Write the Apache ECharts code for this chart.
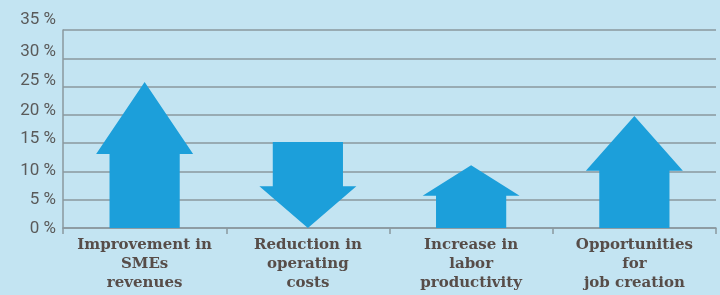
<!DOCTYPE html>
<html><head><meta charset="utf-8">
<script src="https://cdn.jsdelivr.net/npm/echarts@6/dist/echarts.min.js"></script>
<style>html,body{margin:0;padding:0;background:#c3e4f2;}#c{width:720px;height:295px;}</style>
</head><body><div id="c"></div>
<script>
const categories = ['Improvement in\nSMEs\nrevenues', 'Reduction in\noperating\ncosts', 'Increase in\nlabor\nproductivity', 'Opportunities\nfor\njob creation'];
const shaftStart = [0, 15.2, 0, 0];
const headStart = [13.1, 7.4, 5.7, 10.1];
const tipValue = [25.8, 0, 11.1, 19.8];
const yTicks = [0, 5, 10, 15, 20, 25, 30, 35];
const labelShift = {0: -1, 5: 0, 10: 1, 15: 4, 20: 4, 25: 6, 30: 7, 35: 10};

const rich = {};
yTicks.forEach(v => {
  const s = labelShift[v];
  rich['v' + v] = {
    fontSize: 17, fontFamily: 'Roboto', fontWeight: 'normal', color: '#5a5a5a',
    padding: s >= 0 ? [0, 0, 2 * s, 0] : [-2 * s, 0, 0, 0]
  };
});

const chart = echarts.init(document.getElementById('c'));
chart.setOption({
  backgroundColor: '#c3e4f2',
  animation: false,
  grid: {left: 63, right: 4, top: 30, bottom: 67},
  xAxis: {
    type: 'category', data: categories,
    axisLine: {lineStyle: {color: '#8a989e', width: 1.5}},
    axisTick: {show: true, length: 6, lineStyle: {color: '#8a989e', width: 1.5}},
    axisLabel: {fontFamily: 'DejaVu Serif', fontWeight: 'bold', fontSize: 15, color: '#574d49', lineHeight: 19, margin: 8, interval: 0}
  },
  yAxis: {
    type: 'value', min: 0, max: 35, interval: 5,
    axisLine: {show: true, lineStyle: {color: '#8a989e', width: 1.5}},
    axisTick: {show: false},
    splitLine: {lineStyle: {color: '#8a989e', width: 1.5}},
    axisLabel: {margin: 7, formatter: v => '{v' + v + '|' + v + ' %}', rich: rich}
  },
  series: [{
    type: 'custom',
    data: categories.map((c, i) => [i, shaftStart[i], headStart[i], tipValue[i]]),
    encode: {x: 0, y: [1, 2, 3]},
    renderItem: function (params, api) {
      const i = api.value(0);
      const bw = api.size([1, 0])[0];
      const cx = api.coord([i, 0])[0];
      const y0 = api.coord([i, api.value(1)])[1];
      const y1 = api.coord([i, api.value(2)])[1];
      const y2 = api.coord([i, api.value(3)])[1];
      const sw = bw * 0.215, hw = bw * 0.297;
      const pts = [
        [cx - sw, y0], [cx - sw, y1], [cx - hw, y1], [cx, y2],
        [cx + hw, y1], [cx + sw, y1], [cx + sw, y0]
      ];
      return {type: 'polygon', shape: {points: pts}, style: {fill: '#1c9fda'}};
    }
  }]
});
</script></body></html>
